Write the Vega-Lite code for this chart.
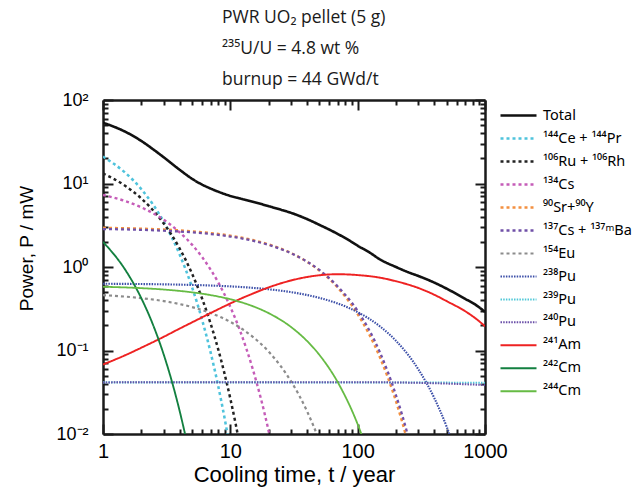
{
  "$schema": "https://vega.github.io/schema/vega-lite/v6.json",
  "width": 382,
  "height": 334,
  "autosize": {"type": "none"},
  "padding": {"left": 103, "top": 100, "right": 158, "bottom": 69},
  "background": "white",
  "title": {
    "text": ["PWR UO₂ pellet (5 g)", "²³⁵U/U = 4.8 wt %", "burnup = 44 GWd/t"],
    "anchor": "start",
    "frame": "group",
    "align": "left",
    "dx": 119,
    "offset": 3,
    "font": "Open Sans",
    "fontSize": 17.5,
    "fontWeight": "normal",
    "color": "#1a1a1a",
    "lineHeight": 31
  },
  "config": {
    "view": {"stroke": null},
    "axis": {
      "domainColor": "#1a1a1a",
      "domainWidth": 2.5,
      "tickColor": "#1a1a1a",
      "tickWidth": 2,
      "grid": false,
      "labelFont": "Liberation Sans",
      "titleFont": "Liberation Sans",
      "labelColor": "black",
      "titleColor": "black",
      "titleFontWeight": "normal",
      "labelOverlap": false,
      "labelFlush": false
    },
    "legend": {
      "orient": "none",
      "legendX": 408,
      "legendY": 8,
      "padding": 0,
      "symbolType": "M-3,0L3,0",
      "symbolSize": 144,
      "labelFont": "Noto Sans",
      "labelFontSize": 14.5,
      "labelColor": "black",
      "labelOffset": 17,
      "rowPadding": 8,
      "title": null
    }
  },
  "data": {
    "values": [
      {"s":"Total","t":1,"p":53.5},{"s":"Total","t":1.5,"p":41.6},{"s":"Total","t":2,"p":32.3},{"s":"Total","t":2.5,"p":25.4},{"s":"Total","t":3,"p":20.6},{"s":"Total","t":4,"p":14.6},{"s":"Total","t":5,"p":11.4},{"s":"Total","t":6,"p":9.7},{"s":"Total","t":7,"p":8.7},{"s":"Total","t":8,"p":8.0},{"s":"Total","t":10,"p":7.1},{"s":"Total","t":12,"p":6.6},{"s":"Total","t":15,"p":6.05},{"s":"Total","t":20,"p":5.35},{"s":"Total","t":25,"p":4.85},{"s":"Total","t":30,"p":4.45},{"s":"Total","t":40,"p":3.75},{"s":"Total","t":50,"p":3.2},{"s":"Total","t":60,"p":2.8},{"s":"Total","t":70,"p":2.48},{"s":"Total","t":85,"p":2.1},{"s":"Total","t":100,"p":1.8},{"s":"Total","t":125,"p":1.48},{"s":"Total","t":150,"p":1.23},{"s":"Total","t":200,"p":1.0},{"s":"Total","t":250,"p":0.865},{"s":"Total","t":300,"p":0.78},{"s":"Total","t":400,"p":0.65},{"s":"Total","t":500,"p":0.55},{"s":"Total","t":700,"p":0.415},{"s":"Total","t":850,"p":0.35},{"s":"Total","t":1000,"p":0.29},
      {"s":"¹⁴⁴Ce + ¹⁴⁴Pr","t":1,"p":21},{"s":"¹⁴⁴Ce + ¹⁴⁴Pr","t":1.5,"p":13.39},{"s":"¹⁴⁴Ce + ¹⁴⁴Pr","t":2,"p":8.54},{"s":"¹⁴⁴Ce + ¹⁴⁴Pr","t":3,"p":3.47},{"s":"¹⁴⁴Ce + ¹⁴⁴Pr","t":4,"p":1.411},{"s":"¹⁴⁴Ce + ¹⁴⁴Pr","t":5,"p":0.574},{"s":"¹⁴⁴Ce + ¹⁴⁴Pr","t":6,"p":0.233},{"s":"¹⁴⁴Ce + ¹⁴⁴Pr","t":7,"p":0.0949},{"s":"¹⁴⁴Ce + ¹⁴⁴Pr","t":8,"p":0.0386},{"s":"¹⁴⁴Ce + ¹⁴⁴Pr","t":9,"p":0.01568},{"s":"¹⁴⁴Ce + ¹⁴⁴Pr","t":10,"p":0.00637},{"s":"¹⁴⁴Ce + ¹⁴⁴Pr","t":11,"p":0.00259},
      {"s":"¹⁰⁶Ru + ¹⁰⁶Rh","t":1,"p":13.2},{"s":"¹⁰⁶Ru + ¹⁰⁶Rh","t":1.5,"p":9.35},{"s":"¹⁰⁶Ru + ¹⁰⁶Rh","t":2,"p":6.62},{"s":"¹⁰⁶Ru + ¹⁰⁶Rh","t":3,"p":3.32},{"s":"¹⁰⁶Ru + ¹⁰⁶Rh","t":4,"p":1.666},{"s":"¹⁰⁶Ru + ¹⁰⁶Rh","t":5,"p":0.836},{"s":"¹⁰⁶Ru + ¹⁰⁶Rh","t":6,"p":0.419},{"s":"¹⁰⁶Ru + ¹⁰⁶Rh","t":7,"p":0.21},{"s":"¹⁰⁶Ru + ¹⁰⁶Rh","t":8,"p":0.1055},{"s":"¹⁰⁶Ru + ¹⁰⁶Rh","t":9,"p":0.0529},{"s":"¹⁰⁶Ru + ¹⁰⁶Rh","t":10,"p":0.0265},{"s":"¹⁰⁶Ru + ¹⁰⁶Rh","t":11,"p":0.0133},{"s":"¹⁰⁶Ru + ¹⁰⁶Rh","t":12,"p":0.00667},{"s":"¹⁰⁶Ru + ¹⁰⁶Rh","t":13,"p":0.00335},
      {"s":"¹³⁴Cs","t":1,"p":7.3},{"s":"¹³⁴Cs","t":1.5,"p":6.15},{"s":"¹³⁴Cs","t":2,"p":5.18},{"s":"¹³⁴Cs","t":3,"p":3.68},{"s":"¹³⁴Cs","t":4,"p":2.6},{"s":"¹³⁴Cs","t":5,"p":1.852},{"s":"¹³⁴Cs","t":6,"p":1.314},{"s":"¹³⁴Cs","t":7,"p":0.932},{"s":"¹³⁴Cs","t":8,"p":0.662},{"s":"¹³⁴Cs","t":10,"p":0.333},{"s":"¹³⁴Cs","t":12,"p":0.168},{"s":"¹³⁴Cs","t":15,"p":0.06},{"s":"¹³⁴Cs","t":20,"p":0.0108},{"s":"¹³⁴Cs","t":25,"p":0.00194},
      {"s":"⁹⁰Sr+⁹⁰Y","t":1,"p":2.95},{"s":"⁹⁰Sr+⁹⁰Y","t":2,"p":2.88},{"s":"⁹⁰Sr+⁹⁰Y","t":3,"p":2.811},{"s":"⁹⁰Sr+⁹⁰Y","t":5,"p":2.679},{"s":"⁹⁰Sr+⁹⁰Y","t":7,"p":2.553},{"s":"⁹⁰Sr+⁹⁰Y","t":10,"p":2.375},{"s":"⁹⁰Sr+⁹⁰Y","t":15,"p":2.106},{"s":"⁹⁰Sr+⁹⁰Y","t":20,"p":1.867},{"s":"⁹⁰Sr+⁹⁰Y","t":25,"p":1.656},{"s":"⁹⁰Sr+⁹⁰Y","t":30,"p":1.468},{"s":"⁹⁰Sr+⁹⁰Y","t":40,"p":1.154},{"s":"⁹⁰Sr+⁹⁰Y","t":50,"p":0.907},{"s":"⁹⁰Sr+⁹⁰Y","t":70,"p":0.5605},{"s":"⁹⁰Sr+⁹⁰Y","t":100,"p":0.2723},{"s":"⁹⁰Sr+⁹⁰Y","t":150,"p":0.0817},{"s":"⁹⁰Sr+⁹⁰Y","t":200,"p":0.0245},{"s":"⁹⁰Sr+⁹⁰Y","t":250,"p":0.00736},{"s":"⁹⁰Sr+⁹⁰Y","t":300,"p":0.0022},
      {"s":"¹³⁷Cs + ¹³⁷ᵐBa","t":1,"p":2.85},{"s":"¹³⁷Cs + ¹³⁷ᵐBa","t":2,"p":2.785},{"s":"¹³⁷Cs + ¹³⁷ᵐBa","t":3,"p":2.722},{"s":"¹³⁷Cs + ¹³⁷ᵐBa","t":5,"p":2.599},{"s":"¹³⁷Cs + ¹³⁷ᵐBa","t":7,"p":2.482},{"s":"¹³⁷Cs + ¹³⁷ᵐBa","t":10,"p":2.316},{"s":"¹³⁷Cs + ¹³⁷ᵐBa","t":15,"p":2.064},{"s":"¹³⁷Cs + ¹³⁷ᵐBa","t":20,"p":1.84},{"s":"¹³⁷Cs + ¹³⁷ᵐBa","t":25,"p":1.639},{"s":"¹³⁷Cs + ¹³⁷ᵐBa","t":30,"p":1.461},{"s":"¹³⁷Cs + ¹³⁷ᵐBa","t":40,"p":1.16},{"s":"¹³⁷Cs + ¹³⁷ᵐBa","t":50,"p":0.922},{"s":"¹³⁷Cs + ¹³⁷ᵐBa","t":70,"p":0.581},{"s":"¹³⁷Cs + ¹³⁷ᵐBa","t":100,"p":0.298},{"s":"¹³⁷Cs + ¹³⁷ᵐBa","t":150,"p":0.0942},{"s":"¹³⁷Cs + ¹³⁷ᵐBa","t":200,"p":0.0291},{"s":"¹³⁷Cs + ¹³⁷ᵐBa","t":250,"p":0.00919},{"s":"¹³⁷Cs + ¹³⁷ᵐBa","t":300,"p":0.0029},
      {"s":"¹⁵⁴Eu","t":1,"p":0.46},{"s":"¹⁵⁴Eu","t":2,"p":0.4238},{"s":"¹⁵⁴Eu","t":3,"p":0.3904},{"s":"¹⁵⁴Eu","t":5,"p":0.3314},{"s":"¹⁵⁴Eu","t":7,"p":0.2813},{"s":"¹⁵⁴Eu","t":10,"p":0.2199},{"s":"¹⁵⁴Eu","t":15,"p":0.146},{"s":"¹⁵⁴Eu","t":20,"p":0.0969},{"s":"¹⁵⁴Eu","t":25,"p":0.0643},{"s":"¹⁵⁴Eu","t":30,"p":0.0427},{"s":"¹⁵⁴Eu","t":40,"p":0.01878},{"s":"¹⁵⁴Eu","t":50,"p":0.00827},{"s":"¹⁵⁴Eu","t":60,"p":0.00364},
      {"s":"²³⁸Pu","t":1,"p":0.63},{"s":"²³⁸Pu","t":2,"p":0.625},{"s":"²³⁸Pu","t":3,"p":0.62},{"s":"²³⁸Pu","t":5,"p":0.61},{"s":"²³⁸Pu","t":7,"p":0.6},{"s":"²³⁸Pu","t":10,"p":0.586},{"s":"²³⁸Pu","t":15,"p":0.563},{"s":"²³⁸Pu","t":20,"p":0.541},{"s":"²³⁸Pu","t":30,"p":0.5},{"s":"²³⁸Pu","t":50,"p":0.427},{"s":"²³⁸Pu","t":70,"p":0.365},{"s":"²³⁸Pu","t":100,"p":0.288},{"s":"²³⁸Pu","t":150,"p":0.194},{"s":"²³⁸Pu","t":200,"p":0.1306},{"s":"²³⁸Pu","t":300,"p":0.0593},{"s":"²³⁸Pu","t":400,"p":0.0269},{"s":"²³⁸Pu","t":500,"p":0.0122},{"s":"²³⁸Pu","t":600,"p":0.0055},
      {"s":"²³⁹Pu","t":1,"p":0.0415},{"s":"²³⁹Pu","t":10,"p":0.0415},{"s":"²³⁹Pu","t":100,"p":0.0414},{"s":"²³⁹Pu","t":1000,"p":0.0411},
      {"s":"²⁴⁰Pu","t":1,"p":0.0415},{"s":"²⁴⁰Pu","t":10,"p":0.0417},{"s":"²⁴⁰Pu","t":100,"p":0.0417},{"s":"²⁴⁰Pu","t":300,"p":0.041},{"s":"²⁴⁰Pu","t":1000,"p":0.0386},
      {"s":"²⁴¹Am","t":1,"p":0.068},{"s":"²⁴¹Am","t":1.5,"p":0.088},{"s":"²⁴¹Am","t":2,"p":0.108},{"s":"²⁴¹Am","t":3,"p":0.146},{"s":"²⁴¹Am","t":4,"p":0.183},{"s":"²⁴¹Am","t":5,"p":0.217},{"s":"²⁴¹Am","t":7,"p":0.281},{"s":"²⁴¹Am","t":10,"p":0.366},{"s":"²⁴¹Am","t":12,"p":0.416},{"s":"²⁴¹Am","t":15,"p":0.48},{"s":"²⁴¹Am","t":20,"p":0.57},{"s":"²⁴¹Am","t":25,"p":0.638},{"s":"²⁴¹Am","t":30,"p":0.69},{"s":"²⁴¹Am","t":40,"p":0.759},{"s":"²⁴¹Am","t":50,"p":0.796},{"s":"²⁴¹Am","t":70,"p":0.82},{"s":"²⁴¹Am","t":100,"p":0.8},{"s":"²⁴¹Am","t":150,"p":0.745},{"s":"²⁴¹Am","t":200,"p":0.675},{"s":"²⁴¹Am","t":250,"p":0.615},{"s":"²⁴¹Am","t":300,"p":0.56},{"s":"²⁴¹Am","t":400,"p":0.465},{"s":"²⁴¹Am","t":500,"p":0.39},{"s":"²⁴¹Am","t":700,"p":0.295},{"s":"²⁴¹Am","t":850,"p":0.24},{"s":"²⁴¹Am","t":1000,"p":0.195},
      {"s":"²⁴²Cm","t":1,"p":2.0},{"s":"²⁴²Cm","t":1.5,"p":0.919},{"s":"²⁴²Cm","t":2,"p":0.4224},{"s":"²⁴²Cm","t":2.5,"p":0.1941},{"s":"²⁴²Cm","t":3,"p":0.0892},{"s":"²⁴²Cm","t":3.5,"p":0.041},{"s":"²⁴²Cm","t":4,"p":0.01884},{"s":"²⁴²Cm","t":4.5,"p":0.00866},{"s":"²⁴²Cm","t":5,"p":0.00398},
      {"s":"²⁴⁴Cm","t":1,"p":0.58},{"s":"²⁴⁴Cm","t":2,"p":0.5582},{"s":"²⁴⁴Cm","t":3,"p":0.5373},{"s":"²⁴⁴Cm","t":5,"p":0.4977},{"s":"²⁴⁴Cm","t":7,"p":0.4609},{"s":"²⁴⁴Cm","t":10,"p":0.4109},{"s":"²⁴⁴Cm","t":15,"p":0.3393},{"s":"²⁴⁴Cm","t":20,"p":0.2801},{"s":"²⁴⁴Cm","t":30,"p":0.191},{"s":"²⁴⁴Cm","t":40,"p":0.1302},{"s":"²⁴⁴Cm","t":50,"p":0.0888},{"s":"²⁴⁴Cm","t":70,"p":0.0413},{"s":"²⁴⁴Cm","t":100,"p":0.01308},{"s":"²⁴⁴Cm","t":120,"p":0.00608}
    ]
  },
  "layer": [
    {
      "mark": {"type": "line", "clip": true, "interpolate": "monotone"},
      "encoding": {
        "x": {
          "field": "t", "type": "quantitative",
          "scale": {"type": "log", "domain": [1, 1000], "nice": false},
          "axis": {
            "orient": "bottom",
            "title": "Cooling time, t / year",
            "titleFontSize": 22,
            "titleY": 47,
            "titleBaseline": "alphabetic",
            "values": [1,2,3,4,5,6,7,8,9,10,20,30,40,50,60,70,80,90,100,200,300,400,500,600,700,800,900,1000],
            "labelExpr": "(datum.value==1||datum.value==10||datum.value==100||datum.value==1000) ? format(datum.value,'d') : ''",
            "labelFontSize": 20,
            "labelPadding": 17,
            "tickSize": {"condition": {"test": "datum.value==1||datum.value==10||datum.value==100||datum.value==1000", "value": -10}, "value": -5}
          }
        },
        "y": {
          "field": "p", "type": "quantitative",
          "scale": {"type": "log", "domain": [0.01, 100], "nice": false},
          "axis": {
            "orient": "left",
            "title": "Power, P / mW",
            "titleFontSize": 19,
            "titleX": -71,
            "titleY": 148,
            "titleBaseline": "alphabetic",
            "values": [0.01,0.02,0.03,0.04,0.05,0.06,0.07,0.08,0.09,0.1,0.2,0.3,0.4,0.5,0.6,0.7,0.8,0.9,1,2,3,4,5,6,7,8,9,10,20,30,40,50,60,70,80,90,100],
            "labelExpr": "datum.value==0.01 ? '10⁻²' : datum.value==0.1 ? '10⁻¹' : datum.value==1 ? '10⁰' : datum.value==10 ? '10¹' : datum.value==100 ? '10²' : ''",
            "labelFontSize": 18,
            "labelPadding": 25,
            "tickSize": {"condition": {"test": "datum.value==0.01||datum.value==0.1||datum.value==1||datum.value==10||datum.value==100", "value": -10}, "value": -5}
          }
        },
        "color": {
          "field": "s", "type": "nominal",
          "scale": {
            "domain": ["Total","¹⁴⁴Ce + ¹⁴⁴Pr","¹⁰⁶Ru + ¹⁰⁶Rh","¹³⁴Cs","⁹⁰Sr+⁹⁰Y","¹³⁷Cs + ¹³⁷ᵐBa","¹⁵⁴Eu","²³⁸Pu","²³⁹Pu","²⁴⁰Pu","²⁴¹Am","²⁴²Cm","²⁴⁴Cm"],
            "range": ["#111111","#4fc3dc","#222222","#c55cb8","#f39040","#7050a8","#8c8c8c","#3c4fa8","#50c8d8","#6a4fa8","#ee2222","#138040","#66bb44"]
          },
          "legend": {}
        },
        "strokeDash": {
          "field": "s", "type": "nominal",
          "scale": {
            "domain": ["Total","¹⁴⁴Ce + ¹⁴⁴Pr","¹⁰⁶Ru + ¹⁰⁶Rh","¹³⁴Cs","⁹⁰Sr+⁹⁰Y","¹³⁷Cs + ¹³⁷ᵐBa","¹⁵⁴Eu","²³⁸Pu","²³⁹Pu","²⁴⁰Pu","²⁴¹Am","²⁴²Cm","²⁴⁴Cm"],
            "range": [[1,0],[3,3],[3,3],[3,3],[3,3],[3,3],[3,3],[1.5,1.2],[1.5,1.2],[1.5,1.2],[1,0],[1,0],[1,0]]
          }
        },
        "strokeWidth": {
          "field": "s", "type": "nominal",
          "scale": {
            "domain": ["Total","¹⁴⁴Ce + ¹⁴⁴Pr","¹⁰⁶Ru + ¹⁰⁶Rh","¹³⁴Cs","⁹⁰Sr+⁹⁰Y","¹³⁷Cs + ¹³⁷ᵐBa","¹⁵⁴Eu","²³⁸Pu","²³⁹Pu","²⁴⁰Pu","²⁴¹Am","²⁴²Cm","²⁴⁴Cm"],
            "range": [2.6,1.8,1.8,1.8,1.8,1.8,1.6,1.5,1.5,1.5,1.6,1.6,1.6]
          }
        }
      }
    },
    {
      "mark": {"type": "line", "opacity": 0},
      "encoding": {
        "detail": {"field": "s"},
        "x": {
          "field": "t", "type": "quantitative",
          "axis": {
            "orient": "top", "title": null, "labels": false,
            "values": [1,2,3,4,5,6,7,8,9,10,20,30,40,50,60,70,80,90,100,200,300,400,500,600,700,800,900,1000],
            "tickSize": {"condition": {"test": "datum.value==1||datum.value==10||datum.value==100||datum.value==1000", "value": -10}, "value": -5}
          }
        },
        "y": {
          "field": "p", "type": "quantitative",
          "axis": {
            "orient": "right", "title": null, "labels": false,
            "values": [0.01,0.02,0.03,0.04,0.05,0.06,0.07,0.08,0.09,0.1,0.2,0.3,0.4,0.5,0.6,0.7,0.8,0.9,1,2,3,4,5,6,7,8,9,10,20,30,40,50,60,70,80,90,100],
            "tickSize": {"condition": {"test": "datum.value==0.01||datum.value==0.1||datum.value==1||datum.value==10||datum.value==100", "value": -10}, "value": -5}
          }
        }
      }
    }
  ],
  "resolve": {"axis": {"x": "independent", "y": "independent"}}
}
